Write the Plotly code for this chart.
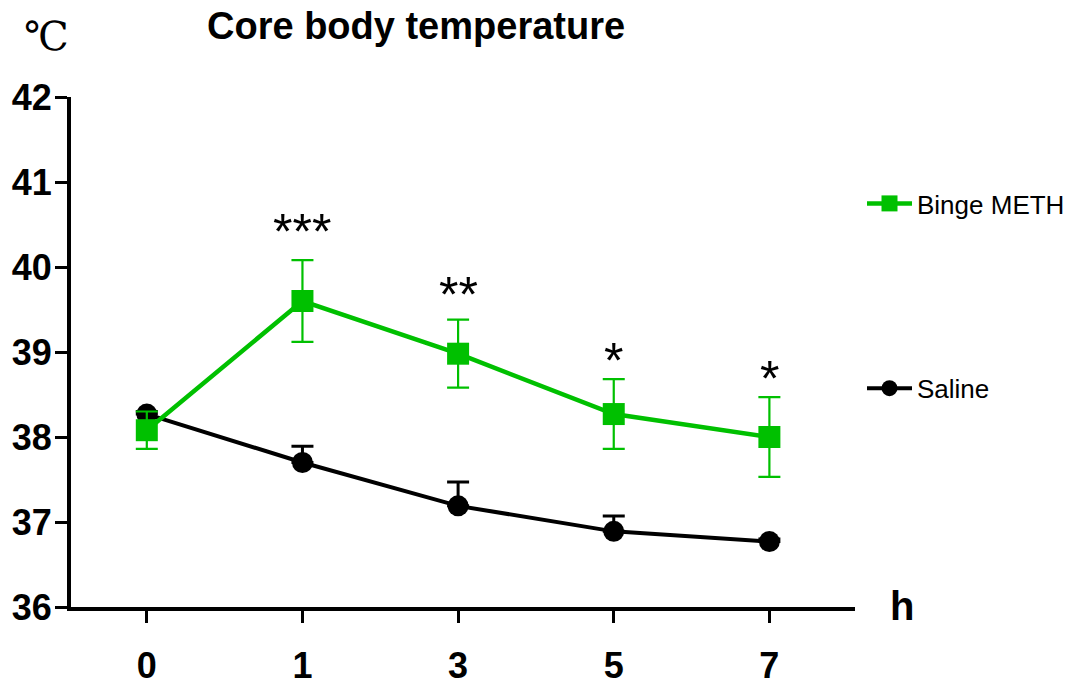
import plotly.graph_objects as go

hours = ["0", "1", "3", "5", "7"]
meth_mean = [38.08, 39.60, 38.98, 38.27, 38.00]
meth_sem = [0.22, 0.48, 0.40, 0.41, 0.47]
saline_mean = [38.27, 37.70, 37.19, 36.89, 36.77]
saline_sem = [0.03, 0.19, 0.28, 0.18, 0.03]
star_labels = ["", "***", "**", "*", "*"]
star_y = [None, 40.485, 39.74, 38.97, 38.75]
y_ticks = [36, 37, 38, 39, 40, 41, 42]

GREEN = "rgb(0,192,0)"
FONT = "Liberation Sans, Arial, sans-serif"

fig = go.Figure()

fig.add_trace(go.Scatter(
    x=hours, y=saline_mean, name="Saline", mode="lines+markers",
    line=dict(color="black", width=4),
    marker=dict(symbol="circle", size=21, color="black"),
    error_y=dict(type="data", array=saline_sem, arrayminus=[0] * len(saline_sem),
                 symmetric=False, color="black", thickness=3, width=11),
    legendgroup="saline", legendrank=2,
))
fig.add_trace(go.Scatter(
    x=hours, y=meth_mean, name="Binge METH", mode="lines+markers",
    line=dict(color=GREEN, width=4.5),
    marker=dict(symbol="square", size=22, color=GREEN),
    error_y=dict(type="data", array=meth_sem, symmetric=True,
                 color=GREEN, thickness=2.2, width=11),
    legendgroup="meth", legendrank=1,
))

annotations = []
for i, (s, sy) in enumerate(zip(star_labels, star_y)):
    if s:
        annotations.append(dict(x=i, y=sy, xref="x", yref="y", text=s, showarrow=False,
                                font=dict(family=FONT, size=50, color="black"),
                                xanchor="center", yanchor="middle", yshift=-6))

annotations += [
    dict(x=0.440, y=1.1396, xref="paper", yref="paper", text="<b>Core body temperature</b>",
         showarrow=False, font=dict(family=FONT, size=38, color="black"),
         xanchor="center", yanchor="middle"),
    dict(x=-0.0305, y=1.1196, xref="paper", yref="paper", text="℃",
         showarrow=False, font=dict(family="DejaVu Serif, Liberation Serif, serif", size=40, color="black"),
         xanchor="center", yanchor="middle", xshift=-1),
    dict(x=1.0598, y=0.0014, xref="paper", yref="paper", text="<b>h</b>",
         showarrow=False, font=dict(family=FONT, size=40, color="black"),
         xanchor="center", yanchor="middle"),
]

fig.update_layout(
    width=1078, height=687,
    margin=dict(l=71, r=223, t=97, b=80, autoexpand=False),
    paper_bgcolor="white", plot_bgcolor="white",
    showlegend=True,
    legend=dict(x=862 / 1078, y=1 - 180 / 687, xref="container", yref="container",
                xanchor="left", yanchor="top",
                font=dict(family=FONT, size=26, color="black"),
                itemwidth=45, tracegroupgap=148, bgcolor="rgba(0,0,0,0)"),
    annotations=annotations,
    xaxis=dict(type="category", categoryorder="array", categoryarray=hours,
               range=[-0.487, 4.55], showgrid=False, zeroline=False, automargin=False,
               showline=True, linecolor="black", linewidth=4,
               ticks="outside", ticklen=12, tickwidth=3, tickcolor="black",
               tickfont=dict(family=FONT, size=36, color="black", weight="bold"),
               ticklabelstandoff=12),
    yaxis=dict(range=[36, 42], tickvals=y_ticks, showgrid=False, zeroline=False, automargin=False,
               showline=True, linecolor="black", linewidth=4,
               ticks="outside", ticklen=12, tickwidth=3, tickcolor="black",
               tickfont=dict(family=FONT, size=36, color="black", weight="bold"),
               ticklabelstandoff=-4),
    font=dict(family=FONT),
)

fig.write_html("out.html")
